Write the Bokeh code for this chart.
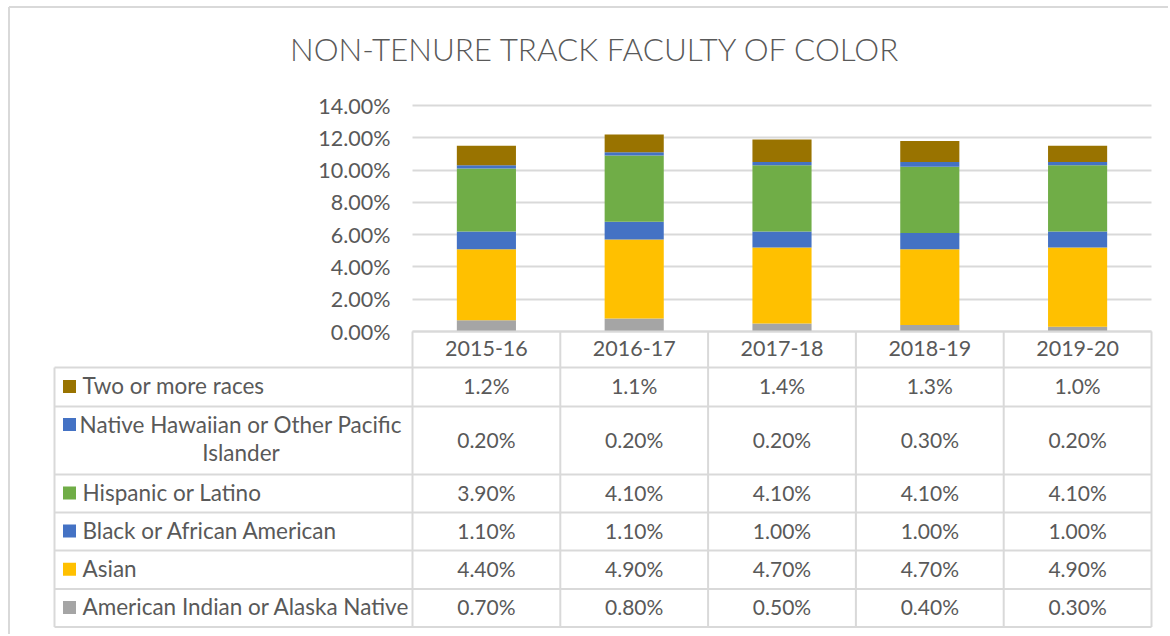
from bokeh.plotting import figure
from bokeh.models import Range1d, FixedTicker, NumeralTickFormatter, ColumnDataSource, Grid
from bokeh.core.properties import value
from bokeh.embed import file_html
from bokeh.resources import INLINE

# ---------------- data ----------------
categories = ["2015-16", "2016-17", "2017-18", "2018-19", "2019-20"]
series_names = ["American Indian or Alaska Native", "Asian", "Black or African American",
                "Hispanic or Latino", "Native Hawaiian or Other Pacific Islander",
                "Two or more races"]
american_indian = [0.70, 0.80, 0.50, 0.40, 0.30]
asian = [4.40, 4.90, 4.70, 4.70, 4.90]
black = [1.10, 1.10, 1.00, 1.00, 1.00]
hispanic = [3.90, 4.10, 4.10, 4.10, 4.10]
native_hawaiian = [0.20, 0.20, 0.20, 0.30, 0.20]
two_or_more = [1.2, 1.1, 1.4, 1.3, 1.0]
y_ticks = [0, 2, 4, 6, 8, 10, 12, 14]
title_text = "NON-TENURE TRACK FACULTY OF COLOR"

series_values = [american_indian, asian, black, hispanic, native_hawaiian, two_or_more]
series_decimals = [2, 2, 2, 2, 2, 1]
colors = ["#A5A5A5", "#FFC000", "#4472C4", "#70AD47", "#4472C4", "#997300"]

FONT = "Lato"
TXT = "#595959"
LINE = "#D9D9D9"

# ---------------- layout constants (page px) ----------------
PX0, PY0 = 0, 0              # canvas origin on the page
W, H = 1168, 634
PLOT_L, PLOT_R = 412, 1151   # plot area (category columns)
Y_ZERO, Y_TOP = 331, 105     # pixel rows of 0% and 14%
ncat = len(categories)
COLW = (PLOT_R - PLOT_L) / ncat
PPU = (Y_ZERO - Y_TOP) / (y_ticks[-1] / 100)
TXT_DY = -1.5                # small vertical nudge for table texts


def X(px):
    return (px - PLOT_L) / COLW


def Y(py):
    return (Y_ZERO - py) / PPU


p = figure(width=W, height=H,
           x_range=Range1d(X(PX0), X(PX0 + W)),
           y_range=Range1d(Y(PY0 + H), Y(PY0)),
           output_backend="svg", toolbar_location=None, x_axis_location=None)
p.min_border = 0
p.min_border_left = 0
p.min_border_right = 0
p.min_border_top = 0
p.min_border_bottom = 0
p.outline_line_color = None
p.background_fill_color = "white"
p.border_fill_color = "white"

# y axis (labels moved into the canvas next to the plot area)
p.yaxis.ticker = FixedTicker(ticks=[t / 100 for t in y_ticks])
p.yaxis.formatter = NumeralTickFormatter(format="0.00%")
p.yaxis.axis_line_color = None
p.yaxis.major_tick_line_color = None
p.yaxis.minor_tick_line_color = None
p.yaxis.major_tick_out = 0
p.yaxis.major_tick_in = 0
p.yaxis.major_label_standoff = -(390 - PX0)
p.yaxis.major_label_text_font = FONT
p.yaxis.major_label_text_font_size = "21.5px"
p.yaxis.major_label_text_color = TXT

# grid lines only across the plot area
p.xgrid.grid_line_color = None
if "cross_bounds" in Grid.properties():
    p.ygrid.ticker = FixedTicker(ticks=[t / 100 for t in y_ticks])
    p.ygrid.grid_line_color = LINE
    p.ygrid.grid_line_width = 2
    p.ygrid.cross_bounds = (0, ncat)
else:
    p.ygrid.grid_line_color = None
    gy = [t / 100 for t in y_ticks]
    p.segment([0] * len(gy), gy, [ncat] * len(gy), gy, line_color=LINE, line_width=2)

# chart border (left and top)
BX, BY = 8.5, 6.5
p.segment([X(BX), X(BX)], [Y(BY), Y(BY)], [X(BX), X(PX0 + W)],
          [Y(PY0 + H), Y(BY)], line_color=LINE, line_width=2)

# stacked bars
keys = ["s%d" % i for i in range(len(series_values))]
data = {"x": [i + 0.5 for i in range(ncat)]}
for k, vals in zip(keys, series_values):
    data[k] = [v / 100 for v in vals]
src = ColumnDataSource(data)
p.vbar_stack(keys, x="x", width=0.4, source=src, color=colors, line_color=None)

# title
p.text([X(595)], [Y(48)], [title_text], text_font=value("Lato Light"),
       text_font_size="31.4px", text_color=TXT, text_align="center", text_baseline="middle")

# ---------------- data table ----------------
row_h = [36, 39, 68, 38, 38, 38.5, 38]   # header + 6 series rows (px)
edges = [Y_ZERO]
for h in row_h:
    edges.append(edges[-1] + h)
LAB_L = 54

x0s, x1s, y0s, y1s = [0], [ncat], [Y(edges[0])], [Y(edges[0])]
for e in edges[1:]:
    x0s.append(X(LAB_L)); x1s.append(ncat); y0s.append(Y(e)); y1s.append(Y(e))
x0s.append(X(LAB_L)); x1s.append(X(LAB_L)); y0s.append(Y(edges[1])); y1s.append(Y(edges[-1]))
for i in range(ncat + 1):
    x0s.append(i); x1s.append(i); y0s.append(Y(edges[0])); y1s.append(Y(edges[-1]))
p.segment(x0s, y0s, x1s, y1s, line_color=LINE, line_width=2)

hdr = ColumnDataSource(dict(x=[i + 0.5 for i in range(ncat)],
                            y=[Y((edges[0] + edges[1]) / 2 - 1)] * ncat, t=categories))
p.text("x", "y", "t", source=hdr, text_font=value(FONT), text_font_size="21.5px",
       text_color=TXT, text_align="center", text_baseline="middle")

tx, ty, tt = [], [], []
kx, ky, kc = [], [], []
lx, ly, lt, la = [], [], [], []
order = list(range(len(series_values)))[::-1]
for r, si in enumerate(order):
    top, bot = edges[r + 1], edges[r + 2]
    yc = (top + bot) / 2
    fmt = "{:.%df}%%" % series_decimals[si]
    for i, v in enumerate(series_values[si]):
        tx.append(i + 0.5); ty.append(Y(yc + TXT_DY)); tt.append(fmt.format(v))
    name = series_names[si]
    if bot - top > 50:
        words = name.split(" ")
        line1 = " ".join(words[:-1]); line2 = words[-1]
        l1y = yc - 16.5; l2y = yc + 12
        lx += [X(240.5), X(240.5)]; ly += [Y(l1y), Y(l2y)]
        lt += [line1, line2]; la += ["center", "center"]
        kx.append(X(69)); ky.append(Y(l1y + 0.5)); kc.append(colors[si])
    else:
        lx.append(X(82)); ly.append(Y(yc + TXT_DY)); lt.append(name); la.append("left")
        kx.append(X(69)); ky.append(Y(yc - 0.5)); kc.append(colors[si])

vals_src = ColumnDataSource(dict(x=tx, y=ty, t=tt))
p.text("x", "y", "t", source=vals_src, text_font=value(FONT), text_font_size="21px",
       text_color=TXT, text_align="center", text_baseline="middle")
lab_src = ColumnDataSource(dict(x=lx, y=ly, t=lt, a=la))
p.text("x", "y", "t", source=lab_src, text_font=value(FONT), text_font_size="22.5px",
       text_color=TXT, text_align="a", text_baseline="middle")
key_src = ColumnDataSource(dict(x=kx, y=ky, c=kc))
p.scatter("x", "y", source=key_src, marker="square", size=13, fill_color="c",
          line_color=None)

open("out.html", "w").write(file_html(p, INLINE))
